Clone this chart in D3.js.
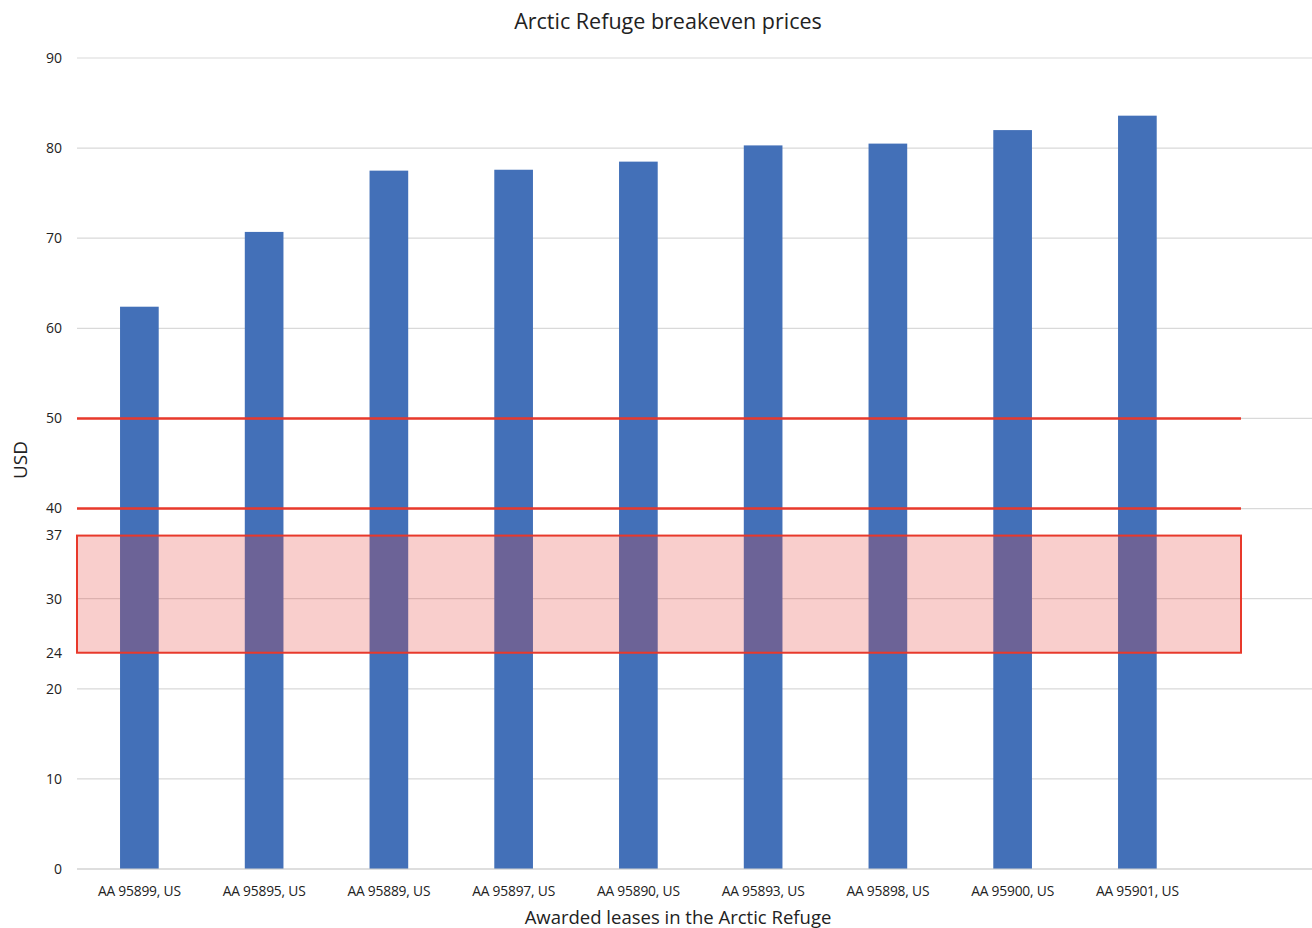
<!DOCTYPE html>
<html><head><meta charset="utf-8">
<script src="https://cdn.jsdelivr.net/npm/d3@7"></script>
<style>body{margin:0;background:#fff}svg{display:block}</style>
</head><body>
<script>
const categories = ["AA 95899, US","AA 95895, US","AA 95889, US","AA 95897, US","AA 95890, US","AA 95893, US","AA 95898, US","AA 95900, US","AA 95901, US"];
const values = [62.4, 70.7, 77.5, 77.6, 78.5, 80.3, 80.5, 82.0, 83.6];
const yTicks = [0,10,20,24,30,37,40,50,60,70,80,90];
const gridTicks = [0,10,20,30,40,50,60,70,80,90];
const refLines = [40, 50];
const refBand = [24, 37];
const title = "Arctic Refuge breakeven prices";
const xTitle = "Awarded leases in the Arctic Refuge";
const yTitle = "USD";

const W = 1312, H = 928;
const font = "'Open Sans', 'Liberation Sans', sans-serif";
const svg = d3.select("body").append("svg").attr("width", W).attr("height", H);

const left = 77, step = 124.75;
const x = d3.scaleBand().domain(categories).range([left, left + step * categories.length]).paddingInner(0.69).paddingOuter(0.345);
const y = d3.scaleLinear().domain([0, 90]).range([869, 58]);
const gridRight = 1312, refRight = 1241;

// gridlines
svg.append("g").selectAll("line").data(gridTicks).join("line")
  .attr("x1", left).attr("x2", gridRight)
  .attr("y1", d => y(d)).attr("y2", d => y(d))
  .attr("stroke", "#d9d9d9").attr("stroke-width", 1.2);

// y tick labels
svg.append("g").selectAll("text").data(yTicks).join("text")
  .attr("x", 62).attr("y", d => y(d)).attr("dy", "0.35em")
  .attr("text-anchor", "end").attr("font-family", font).attr("font-size", 14).attr("fill", "#222")
  .text(d => d);

// bars
svg.append("g").selectAll("rect").data(values).join("rect")
  .attr("x", (d,i) => x(categories[i])).attr("width", x.bandwidth())
  .attr("y", d => y(d)).attr("height", d => y(0) - y(d))
  .attr("fill", "#4370b8");

// ref band
svg.append("rect")
  .attr("x", left).attr("width", refRight - left)
  .attr("y", y(refBand[1])).attr("height", y(refBand[0]) - y(refBand[1]))
  .attr("fill", "rgba(232,60,50,0.25)").attr("stroke", "#e8392b").attr("stroke-width", 2);

// ref lines
svg.append("g").selectAll("line").data(refLines).join("line")
  .attr("x1", left).attr("x2", refRight)
  .attr("y1", d => y(d)).attr("y2", d => y(d))
  .attr("stroke", "#e8392b").attr("stroke-width", 2.5);

// x axis line
svg.append("line").attr("x1", left).attr("x2", gridRight).attr("y1", y(0)).attr("y2", y(0))
  .attr("stroke", "#d0d0d0").attr("stroke-width", 1.2);

// x labels
svg.append("g").selectAll("text").data(categories).join("text")
  .attr("x", d => x(d) + x.bandwidth()/2).attr("y", 891).attr("dy", "0.35em")
  .attr("text-anchor", "middle").attr("font-family", font).attr("font-size", 13.8).attr("fill", "#222")
  .attr("letter-spacing", "-0.2")
  .text(d => d);

// titles
svg.append("text").attr("x", 668).attr("y", 21).attr("dy", "0.35em").attr("text-anchor", "middle")
  .attr("font-family", font).attr("font-size", 21.5).attr("fill", "#222").text(title);
svg.append("text").attr("x", 678).attr("y", 918).attr("dy", "0.35em").attr("text-anchor", "middle")
  .attr("font-family", font).attr("font-size", 18.5).attr("fill", "#222").text(xTitle);
svg.append("text").attr("transform", "translate(20,460) rotate(-90)").attr("dy", "0.35em").attr("text-anchor", "middle")
  .attr("font-family", font).attr("font-size", 19).attr("fill", "#222").text(yTitle);
</script>
</body></html>
